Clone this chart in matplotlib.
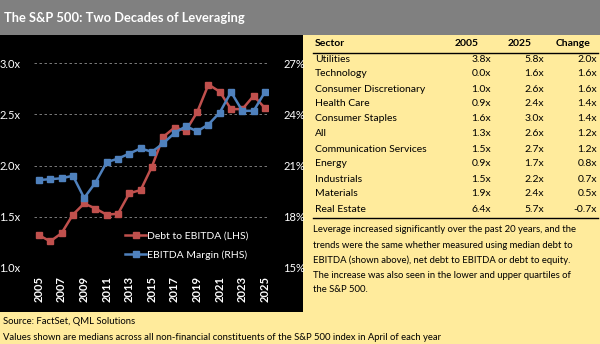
import matplotlib.pyplot as plt
from matplotlib.patches import Rectangle
from matplotlib.lines import Line2D

plt.rcParams['font.family'] = ['Lato', 'DejaVu Sans']

# chart data
years = list(range(2005, 2026))
debt_ebitda = [1.32, 1.26, 1.34, 1.52, 1.63, 1.58, 1.52, 1.53, 1.73, 1.76, 1.99,
               2.28, 2.37, 2.34, 2.52, 2.79, 2.72, 2.55, 2.55, 2.68, 2.56]
ebitda_margin = [20.15, 20.2, 20.25, 20.4, 19.1, 20.0, 21.2, 21.4, 21.7, 22.0, 21.8,
                 22.3, 22.9, 23.3, 23.0, 23.4, 24.1, 25.3, 24.2, 24.2, 25.3]

# table data
sectors = ["Utilities", "Technology", "Consumer Discretionary", "Health Care",
           "Consumer Staples", "All", "Communication Services", "Energy",
           "Industrials", "Materials", "Real Estate"]
lev_2005 = [3.8, 0.0, 1.0, 0.9, 1.6, 1.3, 1.5, 0.9, 1.5, 1.9, 6.4]
lev_2025 = [5.8, 1.6, 2.6, 2.4, 3.0, 2.6, 2.7, 1.7, 2.2, 2.4, 5.7]
lev_change = [2.0, 1.6, 1.6, 1.4, 1.4, 1.2, 1.2, 0.8, 0.7, 0.5, -0.7]

note_lines = [
    "Leverage increased significantly over the past 20 years, and the",
    "trends were the same whether measured using median debt to",
    "EBITDA (shown above), net debt to EBITDA or debt to equity.",
    "The increase was also seen in the lower and upper quartiles of",
    "the S&P 500.",
]

W, H = 600, 344
yellow = "#FFEB9C"
red = "#C0504D"
blue = "#4F81BD"

fig = plt.figure(figsize=(6, 3.44), dpi=100, facecolor=yellow)


def fx(px):
    return px / W


def fy(py):
    return 1 - py / H


# grey title bar and black chart panel
fig.patches.append(Rectangle((0, fy(35)), 1, 35 / H, transform=fig.transFigure,
                             facecolor="#808080", edgecolor="none", zorder=-2))
fig.patches.append(Rectangle((0, fy(312)), fx(303), (312 - 35) / H, transform=fig.transFigure,
                             facecolor="black", edgecolor="none", zorder=-2))
fig.text(fx(4), fy(18), "The S&P 500: Two Decades of Leveraging", color="white",
         fontsize=9.3, fontweight="bold", va="center", ha="left")

# chart
ax = fig.add_axes([fx(34), fy(268), fx(234), 205 / H])
ax.set_facecolor("none")
ax.set_xlim(2004.56, 2025.27)
ax.set_ylim(1.0, 3.0)
ax.set_yticks([1.0, 1.5, 2.0, 2.5, 3.0])
ax.set_yticklabels([f"{v:.1f}x" for v in [1.0, 1.5, 2.0, 2.5, 3.0]])
ax.set_xticks(years[::2])
ax.set_xticklabels([str(y) for y in years[::2]], rotation=90, fontweight="bold")
ax.grid(axis="y", color="#8c8c8c", linestyle=(0, (3, 3)), linewidth=0.6)
for s in ax.spines.values():
    s.set_visible(False)
ax.tick_params(axis="both", length=0, colors="white", labelsize=8)
ax.tick_params(axis="y", pad=10)
ax.tick_params(axis="x", pad=6)

ax2 = ax.twinx()
ax2.set_ylim(15, 27)
ax2.set_yticks([15, 18, 21, 24, 27])
ax2.set_yticklabels([f"{v}%" for v in [15, 18, 21, 24, 27]])
for s in ax2.spines.values():
    s.set_visible(False)
ax2.tick_params(axis="y", length=0, colors="white", labelsize=8, pad=11)

l1, = ax.plot(years, debt_ebitda, color=red, lw=1.8, marker="s", markersize=4.5,
              label="Debt to EBITDA (LHS)", zorder=3)
l2, = ax2.plot(years, ebitda_margin, color=blue, lw=1.8, marker="s", markersize=4.5,
               label="EBITDA Margin (RHS)", zorder=3)

leg = fig.legend(handles=[l1, l2], loc="upper left",
                 bbox_to_anchor=(fx(116), fy(222)), frameon=False,
                 fontsize=7.5, handlelength=2.0, handletextpad=0.1, labelspacing=0.9)
for t in leg.get_texts():
    t.set_color("white")

# table
x_sector = 315
x_2005, x_2025, x_chg = 491, 544, 597
fig.text(fx(x_sector), fy(44), "Sector", fontsize=7.5, fontweight="bold", va="center")
fig.text(fx(467), fy(44), "2005", fontsize=7.5, fontweight="bold", va="center", ha="center")
fig.text(fx(520), fy(44), "2025", fontsize=7.5, fontweight="bold", va="center", ha="center")
fig.text(fx(573), fy(44), "Change", fontsize=7.5, fontweight="bold", va="center", ha="center")
fig.add_artist(Line2D([fx(313), fx(598)], [fy(52.5), fy(52.5)], color="black", lw=1))

row_y = 59
for i, name in enumerate(sectors):
    y = fy(row_y + i * 15)
    fig.text(fx(x_sector), y, name, fontsize=7.5, va="center")
    fig.text(fx(x_2005), y, f"{lev_2005[i]:.1f}x", fontsize=7.5, va="center", ha="right")
    fig.text(fx(x_2025), y, f"{lev_2025[i]:.1f}x", fontsize=7.5, va="center", ha="right")
    fig.text(fx(x_chg), y, f"{lev_change[i]:.1f}x", fontsize=7.5, va="center", ha="right")
fig.add_artist(Line2D([fx(313), fx(598)], [fy(217.5), fy(217.5)], color="black", lw=1))

for i, line in enumerate(note_lines):
    fig.text(fx(313), fy(230 + i * 15), line, fontsize=6.8, va="center")

fig.text(fx(3), fy(322), "Source: FactSet, QML Solutions", fontsize=6.8, va="center")
fig.text(fx(3), fy(337), "Values shown are medians across all non-financial constituents "
         "of the S&P 500 index in April of each year", fontsize=6.8, va="center")

fig.savefig("out.png", dpi=100, facecolor=yellow)
